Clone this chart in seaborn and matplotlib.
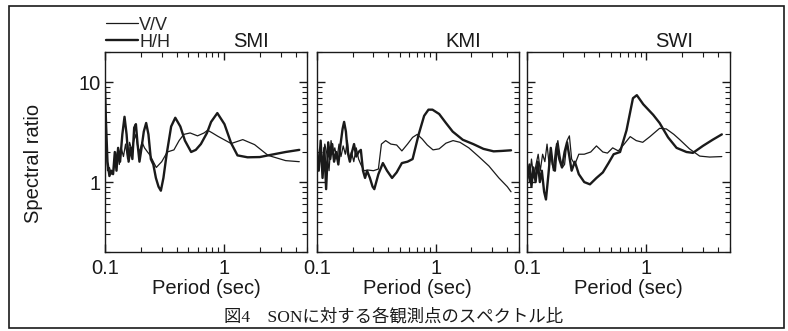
import numpy as np
import matplotlib
matplotlib.use("Agg")
import matplotlib.pyplot as plt
from matplotlib import ticker
from matplotlib.patches import Rectangle
import seaborn as sns

# spectral ratio curves (period in sec, ratio)
smi_vv_period = [0.100, 0.102, 0.105, 0.109, 0.113, 0.118, 0.122, 0.127, 0.132, 0.137, 0.143, 0.149,
                 0.155, 0.161, 0.168, 0.175, 0.182, 0.188, 0.195, 0.205, 0.215, 0.228, 0.24, 0.255,
                 0.27, 0.285, 0.30, 0.334, 0.38, 0.42, 0.46, 0.52, 0.60, 0.68, 0.73, 0.80, 0.89,
                 1.15, 1.44, 1.81, 2.35, 3.3, 4.3]
smi_vv = [7.0, 2.5, 1.3, 1.4, 1.2, 1.3, 1.6, 2.0, 1.5, 2.2, 1.8, 2.4,
          1.7, 2.5, 2.1, 2.6, 3.0, 2.3, 2.0, 2.5, 2.2, 2.0, 1.85, 1.6,
          1.4, 1.5, 1.6, 2.0, 2.1, 2.6, 3.0, 3.1, 2.9, 3.1, 3.3, 3.1, 2.87,
          2.43, 2.66, 2.37, 1.85, 1.64, 1.6]
smi_hh_period = [0.100, 0.102, 0.105, 0.109, 0.113, 0.117, 0.121, 0.125, 0.129, 0.134, 0.140, 0.146,
                 0.152, 0.158, 0.164, 0.170, 0.176, 0.182, 0.188, 0.195, 0.203, 0.212, 0.222, 0.232,
                 0.243, 0.255, 0.268, 0.282, 0.295, 0.31, 0.33, 0.36, 0.39, 0.43, 0.47, 0.53, 0.58,
                 0.64, 0.72, 0.78, 0.88, 1.01, 1.15, 1.30, 1.58, 2.0, 2.35, 3.3, 4.3]
smi_hh = [9.0, 4.0, 1.6, 1.15, 1.3, 1.2, 2.0, 1.3, 2.2, 1.6, 3.0, 4.5,
          3.0, 1.6, 2.2, 1.7, 3.5, 3.8, 2.4, 1.6, 2.2, 3.2, 3.9, 3.0,
          1.7, 1.5, 1.1, 0.9, 0.82, 1.1, 1.9, 3.6, 4.4, 3.6, 2.6, 2.0, 2.1,
          2.4, 3.1, 4.0, 4.9, 3.8, 2.45, 1.85, 1.77, 1.78, 1.85, 2.0, 2.1]

kmi_vv_period = [0.100, 0.104, 0.108, 0.112, 0.117, 0.122, 0.127, 0.132, 0.137, 0.142, 0.148, 0.154,
                 0.160, 0.167, 0.174, 0.181, 0.188, 0.196, 0.205, 0.215, 0.225, 0.235, 0.25, 0.27,
                 0.30, 0.33, 0.35, 0.38, 0.42, 0.47, 0.52, 0.58, 0.64, 0.70, 0.77, 0.85, 0.95,
                 1.07, 1.22, 1.40, 1.6, 1.9, 2.3, 2.8, 3.4, 4.0, 4.3]
kmi_vv = [2.6, 1.6, 2.0, 1.4, 2.4, 1.9, 1.3, 2.6, 1.9, 2.2, 1.7, 2.4,
          1.8, 2.3, 1.9, 2.6, 1.7, 2.0, 1.6, 2.2, 1.7, 1.5, 1.3, 1.32,
          1.3, 1.35, 2.4, 2.6, 2.4, 2.35, 2.05, 2.4, 2.8, 3.0, 2.7, 2.35, 2.1,
          2.15, 2.45, 2.6, 2.5, 2.2, 1.8, 1.45, 1.1, 0.9, 0.8]
kmi_hh_period = [0.100, 0.104, 0.108, 0.112, 0.116, 0.120, 0.125, 0.130, 0.135, 0.140, 0.146, 0.152,
                 0.158, 0.165, 0.170, 0.176, 0.182, 0.190, 0.198, 0.206, 0.215, 0.225, 0.235, 0.245,
                 0.255, 0.265, 0.28, 0.295, 0.305, 0.33, 0.36, 0.39, 0.43, 0.47, 0.52, 0.58, 0.64,
                 0.72, 0.80, 0.87, 0.94, 1.07, 1.22, 1.39, 1.69, 2.07, 2.52, 3.07, 3.6, 4.3]
kmi_hh = [2.0, 1.3, 2.6, 1.1, 2.2, 0.85, 2.5, 1.7, 2.4, 1.6, 2.0, 1.5,
          2.3, 3.4, 4.0, 3.2, 2.0, 1.6, 2.0, 2.4, 1.8, 2.0, 2.1, 1.3,
          1.1, 1.3, 1.1, 0.9, 0.85, 1.2, 1.55, 1.3, 1.1, 1.25, 1.55, 1.6, 1.7,
          3.0, 4.6, 5.3, 5.3, 4.8, 3.9, 3.2, 2.65, 2.4, 2.15, 2.03, 2.05, 2.08]

swi_vv_period = [0.100, 0.104, 0.108, 0.113, 0.118, 0.123, 0.128, 0.134, 0.140, 0.146, 0.152, 0.158,
                 0.165, 0.172, 0.180, 0.188, 0.196, 0.205, 0.215, 0.225, 0.235, 0.25, 0.27, 0.30,
                 0.34, 0.38, 0.43, 0.47, 0.52, 0.58, 0.65, 0.73, 0.82, 0.93, 1.07, 1.29, 1.47,
                 1.70, 1.91, 2.3, 2.8, 3.4, 4.3]
swi_vv = [1.4, 1.0, 1.7, 1.1, 1.5, 1.9, 1.3, 1.9, 1.6, 2.4, 1.5, 1.9,
          1.3, 2.1, 2.6, 1.8, 1.4, 1.5, 2.6, 2.9, 1.7, 1.5, 1.9, 1.9,
          2.0, 2.3, 2.0, 1.95, 2.2, 2.05, 2.4, 2.85, 2.6, 2.5, 2.85, 3.45, 3.4,
          3.0, 2.65, 2.15, 1.82, 1.78, 1.8]
swi_hh_period = [0.100, 0.104, 0.108, 0.112, 0.117, 0.122, 0.127, 0.132, 0.138, 0.143, 0.150, 0.157,
                 0.163, 0.170, 0.177, 0.185, 0.195, 0.205, 0.215, 0.225, 0.235, 0.25, 0.27, 0.30,
                 0.335, 0.38, 0.43, 0.48, 0.53, 0.60, 0.68, 0.77, 0.83, 0.94, 1.14, 1.29, 1.52,
                 1.79, 2.17, 2.46, 2.98, 3.6, 4.3]
swi_hh = [1.1, 1.5, 0.9, 1.4, 1.0, 1.6, 1.0, 1.3, 0.8, 0.67, 1.2, 2.2,
          1.5, 1.3, 2.4, 1.7, 1.4, 2.0, 2.5, 1.8, 1.3, 1.6, 1.2, 1.0,
          0.95, 1.1, 1.25, 1.55, 1.9, 2.0, 3.3, 6.9, 7.4, 6.0, 4.7, 3.9, 2.8,
          2.2, 2.0, 1.96, 2.3, 2.65, 3.0]

stations = ["SMI", "KMI", "SWI"]
curves = [(smi_vv_period, smi_vv, smi_hh_period, smi_hh),
          (kmi_vv_period, kmi_vv, kmi_hh_period, kmi_hh),
          (swi_vv_period, swi_vv, swi_hh_period, swi_hh)]

sns.set_style("ticks")
plt.rcParams["font.family"] = ["Liberation Sans", "Noto Sans CJK JP"]
ink = "#1a1a1a"
fs = 14.5

fig = plt.figure(figsize=(7.88, 3.31), dpi=100)
lefts = [0.1332, 0.4019, 0.6694]

for i, name in enumerate(stations):
    pv, vv, ph, hh = curves[i]
    ax = fig.add_axes([lefts[i], 0.2387, 0.2565, 0.6042])
    sns.lineplot(x=pv, y=vv, ax=ax, color=ink, linewidth=0.9, label="V/V",
                 legend=False, estimator=None, sort=False)
    sns.lineplot(x=ph, y=hh, ax=ax, color=ink, linewidth=1.7, label="H/H",
                 legend=False, estimator=None, sort=False)
    ax.set_xscale("log")
    ax.set_yscale("log")
    ax.set_xlim(0.1, 5)
    ax.set_ylim(0.2, 20)

    ax.xaxis.set_major_locator(ticker.FixedLocator([0.1, 1]))
    ax.xaxis.set_major_formatter(ticker.FuncFormatter(lambda v, p: f"{v:g}"))
    ax.xaxis.set_minor_locator(ticker.LogLocator(subs=np.arange(2, 10), numticks=12))
    ax.xaxis.set_minor_formatter(ticker.NullFormatter())
    ax.yaxis.set_major_locator(ticker.FixedLocator([1, 10]))
    ax.yaxis.set_major_formatter(ticker.FuncFormatter(lambda v, p: f"{v:g}"))
    ax.yaxis.set_minor_locator(ticker.LogLocator(subs=np.arange(2, 10), numticks=12))
    ax.yaxis.set_minor_formatter(ticker.NullFormatter())

    ax.tick_params(which="both", direction="in", top=True, right=True,
                   labelsize=fs, colors=ink, pad=5)
    ax.tick_params(axis="y", pad=3)
    ax.tick_params(which="major", length=6, width=1)
    ax.tick_params(which="minor", length=3.5, width=0.8)
    if i > 0:
        ax.tick_params(labelleft=False)
    for s in ax.spines.values():
        s.set_linewidth(1.0)
        s.set_color(ink)

    ax.set_xlabel("Period (sec)", fontsize=fs, labelpad=1, color=ink)
    ax.set_ylabel("")
    ax.text(0.725, 1.025, name, transform=ax.transAxes, ha="center",
            va="baseline", fontsize=fs, color=ink)

    if i == 0:
        handles, labels = ax.get_legend_handles_labels()

fig.text(0.042, 0.505, "Spectral ratio", rotation=90, ha="center", va="center",
         fontsize=fs, color=ink)

# legend sits above the first panel, no frame
fig.legend(handles, labels, loc="upper left", bbox_to_anchor=(0.1345, 0.95),
           frameon=False, fontsize=13, handlelength=1.75, handletextpad=0.1,
           labelspacing=0.0, borderpad=0, borderaxespad=0)

fig.text(0.5, 0.042, "図4\u3000SONに対する各観測点のスペクトル比", ha="center",
         va="center", fontsize=12.5, color=ink,
         family=["Liberation Serif", "Noto Sans CJK JP"])

fig.add_artist(Rectangle((0.0114, 0.009), 0.9835, 0.973, transform=fig.transFigure,
                         fill=False, lw=1.2, ec=ink))

fig.savefig("out.png", dpi=100)
